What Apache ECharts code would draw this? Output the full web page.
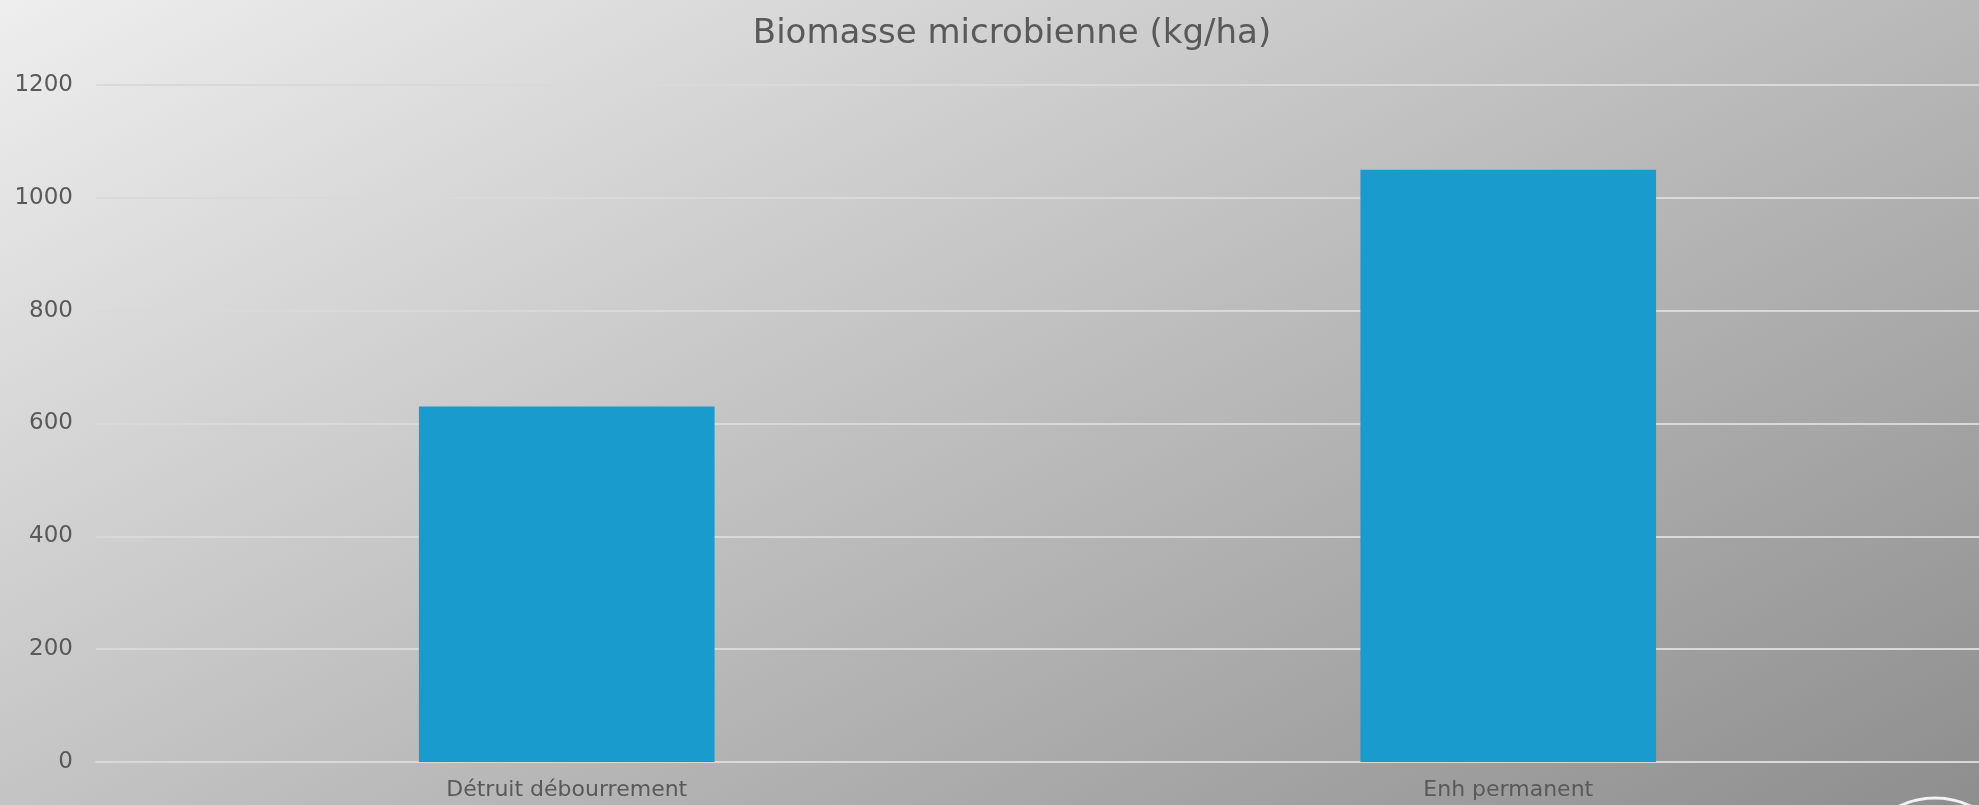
<!DOCTYPE html>
<html>
<head>
<meta charset="utf-8">
<title>Biomasse microbienne</title>
<script src="https://cdn.jsdelivr.net/npm/echarts@6/dist/echarts.min.js"></script>
<style>
  html, body { margin: 0; padding: 0; }
  #chart { width: 1979px; height: 805px; }
</style>
</head>
<body>
<div id="chart"></div>
<script>
// donnees
var categories = ['Détruit débourrement', 'Enh permanent'];
var biomasse = [630, 1050];
var yTicks = [0, 200, 400, 600, 800, 1000, 1200];

var textColor = '#595959';
var fontName = 'DejaVu Sans';

var myChart = echarts.init(document.getElementById('chart'));

var options = {
  // fond gris en degrade diagonal
  backgroundColor: {
    type: 'linear', x: 0, y: 0, x2: 747, y2: 1443, global: true,
    colorStops: [
      { offset: 0, color: '#eeeeee' },
      { offset: 1, color: '#8e8e8e' }
    ]
  },
  title: {
    text: 'Biomasse microbienne (kg/ha)',
    left: 1007,
    textAlign: 'center',
    top: 12,
    textStyle: { fontFamily: fontName, fontSize: 34, fontWeight: 'normal', color: textColor }
  },
  grid: { left: 96, right: -12, top: 85, bottom: 43, containLabel: false },
  xAxis: {
    type: 'category',
    data: categories,
    axisTick: { show: false },
    axisLine: { lineStyle: { color: '#d9d9d9', width: 2 } },
    axisLabel: { margin: 17, fontFamily: fontName, fontSize: 22, color: textColor }
  },
  yAxis: {
    type: 'value',
    min: yTicks[0],
    max: yTicks[yTicks.length - 1],
    interval: 200,
    axisLine: { show: false },
    axisTick: { show: false },
    splitLine: { lineStyle: { color: '#d9d9d9', width: 2 } },
    axisLabel: {
      margin: 23, fontFamily: fontName, fontSize: 23, color: textColor,
      formatter: function(v) { return String(v); }
    }
  },
  // petit logo en bas a droite
  graphic: [{
    type: 'arc',
    shape: { cx: 1935, cy: 880, r: 82, startAngle: Math.PI * 1.3, endAngle: Math.PI * 1.7 },
    style: { stroke: '#f2f2f2', lineWidth: 3, fill: null },
    silent: true
  }],
  series: [{
    type: 'bar',
    data: biomasse,
    barWidth: '31.4%',
    itemStyle: { color: '#199bcd' }
  }]
};

myChart.setOption(options);
</script>
</body>
</html>
